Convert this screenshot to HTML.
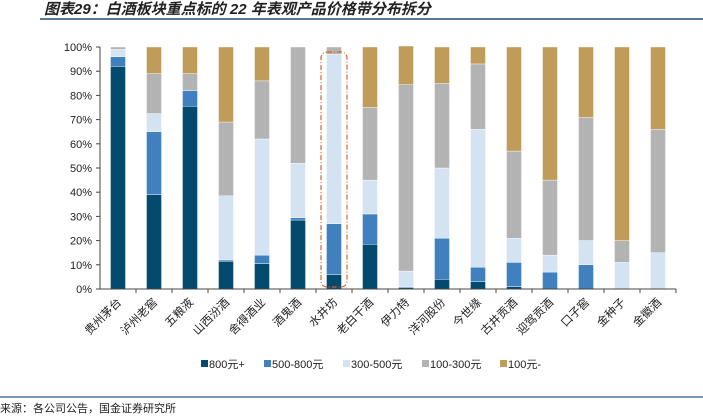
<!DOCTYPE html>
<html><head><meta charset="utf-8"><style>
html,body{margin:0;padding:0;background:#fff;width:703px;height:417px;overflow:hidden}
svg text{font-family:"Liberation Sans","Noto Sans CJK SC",sans-serif}
</style></head><body>
<svg id="c" width="703" height="417" xmlns="http://www.w3.org/2000/svg">
<text x="44" y="14" font-size="15" font-style="italic" font-weight="bold" fill="#222">图表29：白酒板块重点标的 22 年表观产品价格带分布拆分</text>
<line x1="40" y1="19" x2="703" y2="19" stroke="#1f4e6e" stroke-width="1.5"/>
<line x1="0" y1="397" x2="703" y2="397" stroke="#4a7a9c" stroke-width="1.5"/>
<text x="0" y="412" font-size="11" fill="#222">来源：各公司公告，国金证券研究所</text>
<g id="plot"></g>
</svg>
<script>
const categories=["贵州茅台","泸州老窖","五粮液","山西汾酒","舍得酒业","酒鬼酒","水井坊","老白干酒","伊力特","洋河股份","今世缘","古井贡酒","迎驾贡酒","口子窖","金种子","金徽酒"];
const s800=[92,39,75.5,11.5,10.5,28.5,6,18.5,0.5,4,3,1,0,0,0,0];
const s500=[4,26,6.5,0.5,3.5,1,21,12.5,0.5,17,6,10,7,10,0,0];
const s300=[3,7.5,0,26.5,48,22.5,70,14,6.4,29,57,10,7,10,11,15];
const s100=[1,16.5,7,30.5,24,48,3,30,77,35,27,36,31,51,9,51];
const sLow=[0,11,11,31,14,0,0,25,16,15,7,43,55,29,80,34];
const seriesNames=["800元+","500-800元","300-500元","100-300元","100元-"];
const yTicks=[0,10,20,30,40,50,60,70,80,90,100];
const series=[s800,s500,s300,s100,sLow];
const colors=["#034a6e","#4080bf","#d3e3f2","#b3b3b3","#bf9c5a"];
const NS="http://www.w3.org/2000/svg";
const g=document.getElementById('plot');
const X0=100,X1=676,Y0=289,Y1=47;
const band=(X1-X0)/categories.length;
const xc=i=>X0+band*(i+0.5);
const y=v=>Y0-(v/100)*(Y0-Y1);
function mk(t,a){const e=document.createElementNS(NS,t);for(const k in a)e.setAttribute(k,a[k]);g.appendChild(e);return e;}
yTicks.forEach(t=>{
 const tx=mk('text',{x:92,y:y(t)+4,'font-size':11,'text-anchor':'end',fill:'#222'});tx.textContent=t+'%';
 
 
 const l=mk('line',{x1:X0-4,x2:X0,y1:y(t),y2:y(t),stroke:'#444'});
 
 
});
categories.forEach((c,i)=>{
 let acc=0;
 series.forEach((s,k)=>{
  const v=s[i];if(v<=0)return;
  const r=mk('rect',{x:xc(i)-7.5,width:15,y:y(acc+v),height:y(acc)-y(acc+v),fill:colors[k],stroke:'#fff','stroke-width':0.4});
  
  
  acc+=v;
 });
 const tk=mk('line',{x1:X0+band*(i+1),x2:X0+band*(i+1),y1:Y0,y2:Y0+4,stroke:'#444'});
 
 
 const tx=mk('text',{x:xc(i)+4,y:Y0+14,'font-size':11.5,'text-anchor':'end',fill:'#222',transform:`rotate(-45 ${xc(i)+4} ${Y0+14})`});
 tx.textContent=c;
 
 
});
const ax=mk('line',{x1:X0,x2:X0,y1:Y1,y2:Y0,stroke:'#444'});


const bx=mk('line',{x1:X0,x2:X1,y1:Y0,y2:Y0,stroke:'#444'});


const hi=mk('rect',{x:xc(6)-13,y:52,width:26,height:235,rx:6,fill:'none',stroke:'#d9652b','stroke-width':1.2,'stroke-dasharray':'5 2 1 2'});


const lx=[201,264,343,422,500];
seriesNames.forEach((n,k)=>{
 const r=mk('rect',{x:lx[k],y:360,width:7,height:7,fill:colors[k]});
 
 
 const t=mk('text',{x:lx[k]+8,y:368,'font-size':11,fill:'#222'});t.textContent=n;
 
 
});
</script>
</body></html>
